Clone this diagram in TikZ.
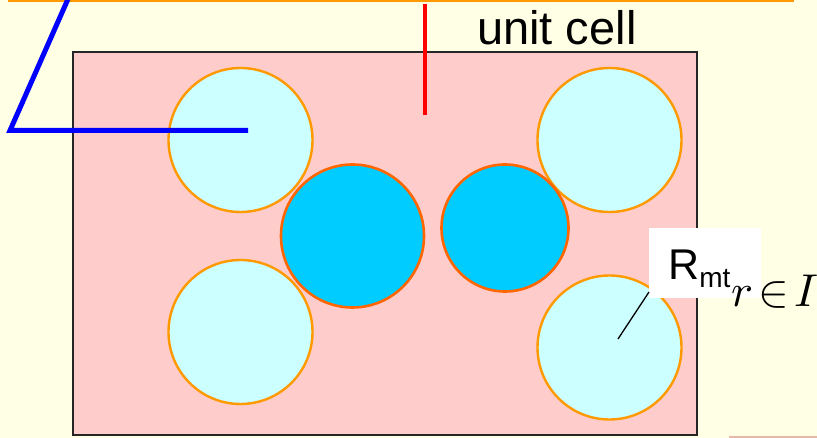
\documentclass[tikz,border=0pt]{standalone}
\usepackage{fontspec}
\setmainfont{Liberation Sans}
\begin{document}
\begin{tikzpicture}[x=1pt,y=-1pt,
  lightball/.style={circle,draw=ballorange,line width=2.4pt,fill=lightcyan,minimum size=#1,inner sep=0pt},
  darkball/.style={circle,draw=darkorange,line width=2.6pt,fill=darkcyan,minimum size=#1,inner sep=0pt},
  lbl/.style={inner sep=0pt,font=\fontsize{47}{47}\selectfont}]
\definecolor{bgyellow}{HTML}{FFFFE5}
\definecolor{cellpink}{HTML}{FFCCCC}
\definecolor{lightcyan}{HTML}{CCFFFF}
\definecolor{darkcyan}{HTML}{00CCFF}
\definecolor{ballorange}{HTML}{FF9900}
\definecolor{darkorange}{HTML}{FF6600}
\definecolor{stripcol}{HTML}{E8B8A8}
\useasboundingbox (0,0) rectangle (817,438);
\fill[bgyellow] (0,0) rectangle (817,438);
% unit cell
\draw[fill=cellpink,line width=1.8pt,draw=black!85] (73,52) rectangle (697,435);
% balls
\node[lightball=144pt] (tl) at (240.5,140) {};
\node[lightball=144pt] (bl) at (240.5,332) {};
\node[lightball=144pt] (tr) at (609.5,140) {};
\node[lightball=144pt] (br) at (609.5,347.5) {};
\node[darkball=143pt] (dl) at (352.5,236) {};
\node[darkball=127pt] (dr) at (505,228) {};
% top orange line
\coordinate (ol) at (8,1);
\coordinate (or) at (794,1);
\draw[ballorange,line width=2.8pt] (ol) -- (or);
% blue lines
\coordinate (b1) at (68,-1);
\coordinate (b2) at (10,130.5);
\coordinate (b3) at (248,130.5);
\draw[blue,line width=5pt] (b1) -- (b2) -- (b3);
% red line
\coordinate (r1) at (425,4);
\coordinate (r2) at (425,115);
\draw[red,line width=3.5pt] (r1) -- (r2);
% label unit cell
\node[lbl,anchor=base west] (uc) at (477,45) {unit cell};
% R_mt box
\node[fill=white,minimum width=112pt,minimum height=70pt,inner sep=0pt,anchor=north west] (rbox) at (649,228) {};
\node[inner sep=0pt,anchor=base west,font=\fontsize{43}{43}\selectfont] (rmt) at (668,280) {R\raisebox{-8pt}{\fontsize{28}{28}\selectfont mt}};
\coordinate (rc) at (618,339);
\coordinate (re) at (649,292);
\draw[black,line width=1.3pt] (rc) -- (re);
% r in I
\node[inner sep=0pt,anchor=base west] (rin) at (731,307) {\scalebox{4.6}{$r\mskip2mu{\in}\mskip2mu I$}};
% bottom strip
\fill[stripcol] (729,436) rectangle (817,438);
\end{tikzpicture}
\end{document}
